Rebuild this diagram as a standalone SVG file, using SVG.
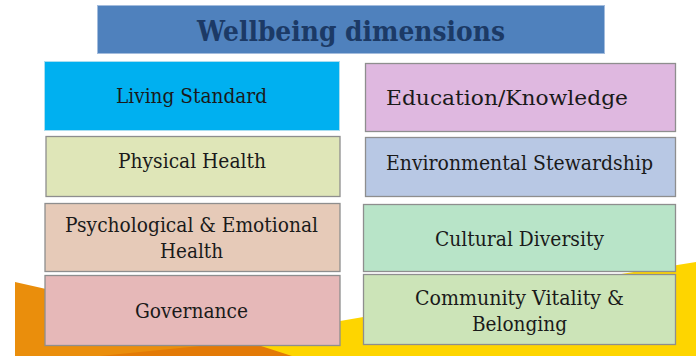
<svg xmlns="http://www.w3.org/2000/svg" width="700" height="356" viewBox="0 0 700 356">
<style>
.box{stroke:#8e8e8e;stroke-width:1.3}
.lbl{font-family:"DejaVu Serif","Liberation Serif",serif;font-size:20px;fill:#1a1a1a;text-anchor:middle}
.title{font-family:"DejaVu Serif","Liberation Serif",serif;font-size:27px;font-weight:bold;fill:#1c3a66;text-anchor:middle}
</style>
<rect width="700" height="356" fill="#ffffff"/>
<g id="background">
<polygon points="15,282 370,362 15,356" fill="#ea8e0c"/>
<polygon points="100,356 200,346 262,345 292,356" fill="#e37a06"/>
<path d="M292,356 L252,343 L340,321 Q520,290 696,262 L696,356 Z" fill="#fed500"/>
</g>
<g id="title">
<rect x="97.5" y="5.5" width="507" height="48" fill="#4f81bd" stroke="#a3bcdd" stroke-width="1"/>
<text class="title" x="351" y="41" textLength="308" lengthAdjust="spacingAndGlyphs">Wellbeing dimensions</text>
</g>
<g id="living-standard">
<rect x="44.5" y="61.5" width="295" height="69" fill="#00b0f0" stroke="#a9def0" stroke-width="1"/>
<text class="lbl" x="191.5" y="103" textLength="151" lengthAdjust="spacingAndGlyphs">Living Standard</text>
</g>
<g id="physical-health">
<rect class="box" x="46" y="136.5" width="294" height="60" fill="#dfe6b8"/>
<text class="lbl" x="192" y="168" textLength="148" lengthAdjust="spacingAndGlyphs">Physical Health</text>
</g>
<g id="psychological-health">
<rect class="box" x="45" y="203.5" width="295" height="68" fill="#e6cab8"/>
<text class="lbl" x="191.5" y="232" textLength="253" lengthAdjust="spacingAndGlyphs">Psychological &amp; Emotional</text>
<text class="lbl" x="191.5" y="258" textLength="63" lengthAdjust="spacingAndGlyphs">Health</text>
</g>
<g id="governance">
<rect class="box" x="45" y="275.5" width="295" height="70" fill="#e6b8b8"/>
<text class="lbl" x="191.5" y="318" textLength="113" lengthAdjust="spacingAndGlyphs">Governance</text>
</g>
<g id="education">
<rect class="box" x="365.5" y="63.5" width="310" height="68" fill="#dfb8e0"/>
<text class="lbl" x="507" y="105" textLength="242" lengthAdjust="spacingAndGlyphs">Education/Knowledge</text>
</g>
<g id="environmental">
<rect class="box" x="365.5" y="137.5" width="310" height="59" fill="#b8c8e4"/>
<text class="lbl" x="519.5" y="170" textLength="267" lengthAdjust="spacingAndGlyphs">Environmental Stewardship</text>
</g>
<g id="cultural-diversity">
<rect class="box" x="363.5" y="204.5" width="312" height="67" fill="#b8e4c8"/>
<text class="lbl" x="519.5" y="246" textLength="169" lengthAdjust="spacingAndGlyphs">Cultural Diversity</text>
</g>
<g id="community-vitality">
<rect class="box" x="363.5" y="274.5" width="312" height="70" fill="#cce4b8"/>
<text class="lbl" x="519.5" y="305" textLength="209" lengthAdjust="spacingAndGlyphs">Community Vitality &amp;</text>
<text class="lbl" x="519.5" y="331" textLength="95" lengthAdjust="spacingAndGlyphs">Belonging</text>
</g>
<g id="connectors"/>
</svg>
